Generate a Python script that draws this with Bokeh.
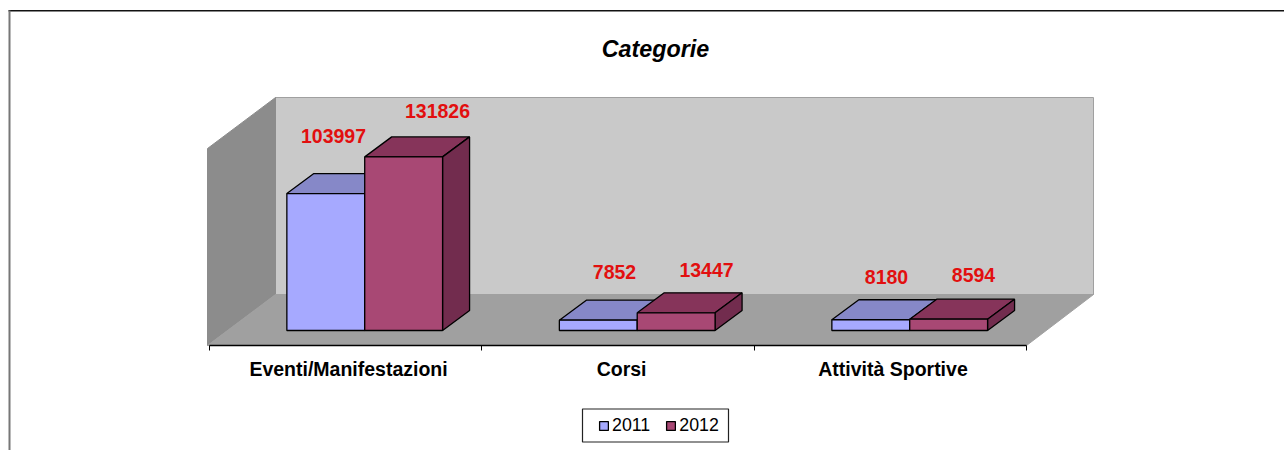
from bokeh.plotting import figure
from bokeh.models import (FixedTicker, Legend, LegendItem, LinearAxis, Range1d)
from bokeh.embed import file_html
from bokeh.resources import INLINE
from bokeh.core.properties import value

# ---- data ----
categories = ["Eventi/Manifestazioni", "Corsi", "Attività Sportive"]
series_names = ["2011", "2012"]
values_2011 = [103997, 7852, 8180]
values_2012 = [131826, 13447, 8594]
title_text = "Categorie"

# ---- colours ----
front_colors = ["#A6A9FF", "#A84874"]
top_colors = ["#8688C8", "#86345A"]
side_colors = ["#6A6CA0", "#722C4E"]
LABEL_RED = "#E20F0F"

# ---- layout (pixels on the page) ----
W, H = 1284, 450
PAGE = 0
CAT_LEFT, CAT_PX = 208.5, 272.5
BASE_Y, PX_PER_VALUE = 330.0, 0.001317
DEPTH_X, DEPTH_Y = 27.0, 20.0
FONT = "Liberation Sans"


def ux(px):  # page px -> category units
    return (px - CAT_LEFT) / CAT_PX


def uy(py):  # page px -> value units
    return (BASE_Y - py) / PX_PER_VALUE


p = figure(width=W, height=H, output_backend="svg", toolbar_location=None,
           x_range=Range1d(ux(PAGE), ux(PAGE + W)),
           y_range=Range1d(uy(PAGE + H), uy(PAGE)),
           x_axis_type=None, y_axis_type=None,
           min_border=0, min_border_left=0, min_border_right=0,
           min_border_top=0, min_border_bottom=0,
           background_fill_color="white", border_fill_color="white", outline_line_color=None)
p.grid.visible = False

# chart-area frame
p.segment(x0=[ux(8)], y0=[uy(10.3)], x1=[ux(PAGE + W)], y1=[uy(10.3)], line_color="#111111", line_width=1.5)
p.segment(x0=[ux(9)], y0=[uy(10)], x1=[ux(9)], y1=[uy(PAGE + H)], line_color="#777777", line_width=2)


def poly(pts, fill, line="#A0A0A0", lw=1.0):
    p.patch([ux(a) for a, _ in pts], [uy(b) for _, b in pts], fill_color=fill, line_color=line, line_width=lw)


# walls and floor
poly([(275, 97), (1093, 97), (1093, 294), (275, 294)], "#C9C9C9")
poly([(207, 148), (275, 97), (275, 294), (207, 345)], "#8C8C8C", line="#8C8C8C")
poly([(207, 345), (275, 294), (1093, 294), (1026, 345)], "#A0A0A0", line="#A0A0A0")

# bars
BAR = 1 / 3.5
DX, DY = DEPTH_X / CAT_PX, DEPTH_Y / PX_PER_VALUE
legend_items = []
for c in range(len(categories)):
    for s, vals in enumerate([values_2011, values_2012]):
        x0 = c + BAR * (1 + s)
        x1 = x0 + BAR
        v = vals[c]
        p.patch([x0, x1, x1 + DX, x0 + DX], [v, v, v + DY, v + DY],
                fill_color=top_colors[s], line_color="black", line_width=1.3)
        p.patch([x1, x1 + DX, x1 + DX, x1], [0, DY, v + DY, v],
                fill_color=side_colors[s], line_color="black", line_width=1.3)
        r = p.quad(left=[x0], right=[x1], bottom=[0], top=[v],
                   fill_color=front_colors[s], line_color="black", line_width=1.3)
        if c == 0:
            legend_items.append(LegendItem(label=series_names[s], renderers=[r]))

# value labels (hand-placed in the original, so each has its own page position)
label_px = [(333, 135.5), (437, 110.5), (614, 271.5), (706, 269), (886, 276.5), (973, 274)]
label_vals = [values_2011[0], values_2012[0], values_2011[1], values_2012[1], values_2011[2], values_2012[2]]
p.text(x=[ux(a) for a, _ in label_px], y=[uy(b) for _, b in label_px],
       text=[str(v) for v in label_vals], text_color=LABEL_RED,
       text_font=value(FONT), text_font_size="19.5px", text_font_style="bold",
       text_align="center", text_baseline="middle")

# title
p.text(x=[ux(655)], y=[uy(48.5)], text=[title_text], text_color="black",
       text_font=value(FONT), text_font_size="23.3px", text_font_style="bold italic",
       text_align="center", text_baseline="middle")

# category axis: ticks at the category boundaries
tick_axis = LinearAxis(ticker=FixedTicker(ticks=[0, 1, 2, 3]), major_label_text_font_size="0px",
                       major_tick_in=0, major_tick_out=5, minor_tick_line_color=None,
                       major_tick_line_color="black", axis_line_color="black", axis_line_width=1.5,
                       bounds=(0, 3), fixed_location=uy(345.3))
tick_axis.major_label_overrides = {0: "", 1: "", 2: "", 3: ""}
p.add_layout(tick_axis, "below")

# category axis: names
label_ticks = [round(ux(348), 3), round(ux(621), 3), round(ux(892.5), 3)]
name_axis = LinearAxis(ticker=FixedTicker(ticks=label_ticks), axis_line_color=None,
                       major_tick_line_color=None, minor_tick_line_color=None,
                       major_tick_in=0, major_tick_out=0, major_label_standoff=12,
                       major_label_text_font=FONT, major_label_text_font_size="19.5px",
                       major_label_text_font_style="bold", major_label_text_color="black",
                       fixed_location=uy(345.3))
name_axis.major_label_overrides = dict(zip(label_ticks, categories))
p.add_layout(name_axis, "below")

# legend: the frame is drawn behind a borderless native legend
p.quad(left=[ux(582)], right=[ux(728)], top=[uy(408.5)], bottom=[uy(441.5)],
       fill_color="white", line_color="#222222", line_width=1.2)
legend = Legend(items=legend_items, orientation="horizontal", location=(598, H - 441 + 5),
                label_text_font=FONT, label_text_font_size="17.8px", label_text_color="black",
                glyph_width=11, glyph_height=11, label_standoff=3, spacing=15,
                padding=7, margin=0, border_line_color=None,
                background_fill_alpha=0.0,
                label_height=16)
p.add_layout(legend, "center")

open("out.html", "w").write(file_html(p, INLINE))
